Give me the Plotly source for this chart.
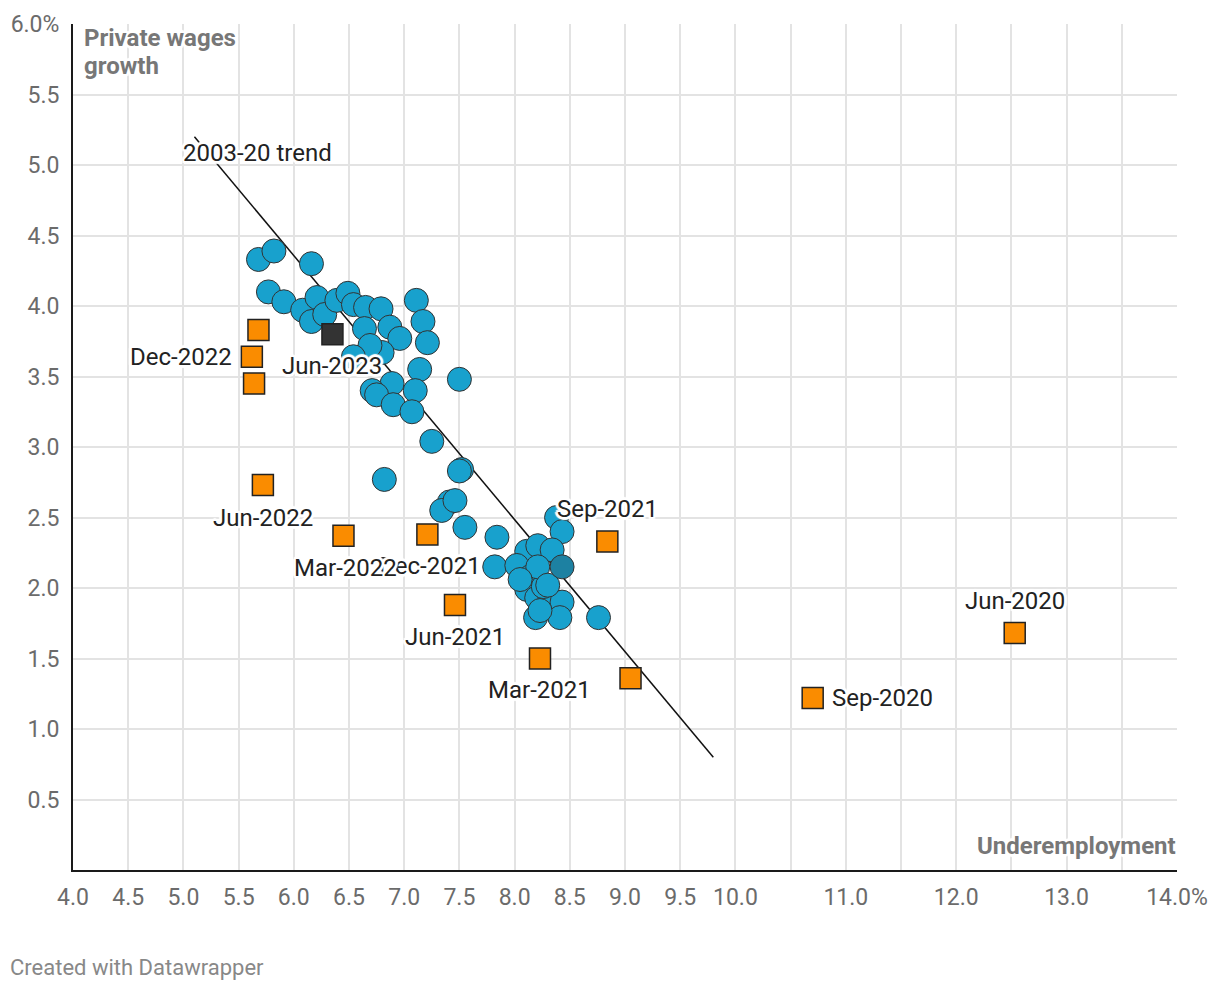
import plotly.graph_objects as go

# ---------------- data ----------------
# Historical quarterly observations (blue circles): underemployment %, private wages growth %
hist_under = [5.68, 5.82, 6.16, 5.77, 5.91, 6.08, 6.21, 6.16, 6.28, 6.39, 6.49, 6.54, 6.65, 6.79,
              7.11, 7.17, 7.21, 6.64, 6.87, 6.96, 6.80, 6.69, 7.14, 7.50, 6.89, 6.71, 6.75, 6.90,
              7.10, 7.07, 6.54, 7.25, 7.52, 7.50, 6.82, 7.41, 7.34, 7.46, 7.55, 7.84, 7.82, 8.38,
              8.43, 8.11, 8.21, 8.34, 8.02, 8.14, 8.11, 8.20, 8.32, 8.43, 8.19, 8.41, 8.76, 8.26,
              8.21, 8.30, 8.23, 8.05]
hist_wages = [4.33, 4.39, 4.30, 4.10, 4.03, 3.97, 4.06, 3.89, 3.94, 4.04, 4.09, 4.01, 3.99, 3.98,
              4.04, 3.89, 3.74, 3.84, 3.85, 3.77, 3.67, 3.72, 3.55, 3.48, 3.45, 3.40, 3.37, 3.30,
              3.40, 3.25, 3.64, 3.04, 2.84, 2.83, 2.77, 2.61, 2.55, 2.62, 2.43, 2.36, 2.15, 2.50,
              2.40, 2.26, 2.30, 2.27, 2.16, 2.08, 1.99, 1.93, 1.93, 1.90, 1.79, 1.79, 1.79, 2.01,
              2.15, 2.02, 1.84, 2.06]

# Highlighted historical point (darker circle)
hl_under = [8.43]
hl_wages = [2.15]

# Pandemic-era quarters (orange squares); last one highlighted (dark square)
quarters = ["Jun-2020", "Sep-2020", "Dec-2020", "Mar-2021", "Jun-2021", "Sep-2021", "Dec-2021",
            "Mar-2022", "Jun-2022", "Sep-2022", "Dec-2022", "Mar-2023", "Jun-2023"]
q_under = [12.53, 10.70, 9.05, 8.23, 7.46, 8.84, 7.21, 6.45, 5.72, 5.64, 5.62, 5.68, 6.35]
q_wages = [1.68, 1.22, 1.36, 1.50, 1.88, 2.33, 2.38, 2.37, 2.73, 3.45, 3.64, 3.83, 3.80]
q_labelled = [True, True, False, True, True, True, True, True, True, False, True, False, True]

# 2003-20 trend line end points
trend_x = [5.1, 9.8]
trend_y = [5.2, 0.8]
trend_label = "2003-20 trend"

x_tickvals = [4.0, 4.5, 5.0, 5.5, 6.0, 6.5, 7.0, 7.5, 8.0, 8.5, 9.0, 9.5, 10.0,
              10.5, 11.0, 11.5, 12.0, 12.5, 13.0, 13.5, 14.0]
x_ticktext = ["4.0", "4.5", "5.0", "5.5", "6.0", "6.5", "7.0", "7.5", "8.0", "8.5", "9.0", "9.5", "10.0",
              "", "11.0", "", "12.0", "", "13.0", "", "14.0%"]
y_tickvals = [0.5, 1.0, 1.5, 2.0, 2.5, 3.0, 3.5, 4.0, 4.5, 5.0, 5.5, 6.0]
y_ticktext = ["0.5", "1.0", "1.5", "2.0", "2.5", "3.0", "3.5", "4.0", "4.5", "5.0", "5.5", "6.0%"]

y_title_lines = ["Private wages", "growth"]
x_title = "Underemployment"
footer = "Created with Datawrapper"

# ---------------- styling ----------------
FONT = "Roboto, Arial, sans-serif"
BLUE = "#18a1cd"
DARK_BLUE = "#1d81a2"
ORANGE = "#fa8c00"
DARK = "#333333"
HALO = ("0 0 3px #fff, 1px 1px 0 #fff, -1px -1px 0 #fff, 1px -1px 0 #fff, -1px 1px 0 #fff, "
        "2px 2px 1px #fff, -2px -2px 1px #fff, 2px -2px 1px #fff, -2px 2px 1px #fff, "
        "3px 0 1px #fff, -3px 0 1px #fff, 0 3px 1px #fff, 0 -3px 1px #fff")
LABEL_SIZE = 24

# label placement per quarter: (xanchor, xshift, yshift)
label_place = {
    "Jun-2020": ("center", 0, 32),
    "Sep-2020": ("left", 17, 0),
    "Mar-2021": ("center", 0, -31),
    "Jun-2021": ("center", 0, -32),
    "Sep-2021": ("center", 0, 32),
    "Dec-2021": ("center", 3, -32),
    "Mar-2022": ("center", 2, -32),
    "Jun-2022": ("center", 0, -33),
    "Dec-2022": ("right", -18, 0),
    "Jun-2023": ("center", 0, -32),
}

fig = go.Figure()

fig.add_trace(go.Scatter(
    x=trend_x, y=trend_y, mode="lines",
    line=dict(color="#111111", width=1.5), hoverinfo="skip", showlegend=False))

fig.add_trace(go.Scatter(
    x=hist_under, y=hist_wages, mode="markers",
    marker=dict(symbol="circle", size=24, color=BLUE, line=dict(color=DARK, width=1)),
    showlegend=False))

fig.add_trace(go.Scatter(
    x=hl_under, y=hl_wages, mode="markers",
    marker=dict(symbol="circle", size=24, color=DARK_BLUE, line=dict(color=DARK, width=1)),
    showlegend=False))

sq_colors = [ORANGE] * (len(quarters) - 1) + [DARK]
fig.add_trace(go.Scatter(
    x=q_under, y=q_wages, mode="markers", text=quarters,
    marker=dict(symbol="square", size=21, color=sq_colors, line=dict(color="#222222", width=1.5)),
    showlegend=False))

annotations = []
annotations.append(dict(
    x=trend_x[0], y=trend_y[0], xref="x", yref="y", text=trend_label, showarrow=False,
    xanchor="left", yanchor="middle", xshift=-13, yshift=-16,
    font=dict(family=FONT, size=LABEL_SIZE, color="#222222", shadow=HALO)))

idx_sorted = sorted(range(len(quarters)), key=lambda i: (quarters[i] == "Mar-2022"))
for i in idx_sorted:
    if not q_labelled[i]:
        continue
    q = quarters[i]
    xa, xs, ys = label_place[q]
    annotations.append(dict(
        x=q_under[i], y=q_wages[i], xref="x", yref="y", text=q, showarrow=False,
        xanchor=xa, yanchor="middle", xshift=xs, yshift=ys,
        font=dict(family=FONT, size=LABEL_SIZE, color="#222222", shadow=HALO)))

# axis titles (two lines placed separately for tight line spacing)
for k, line in enumerate(y_title_lines):
    annotations.append(dict(
        x=0, y=1, xref="paper", yref="paper", text="<b>%s</b>" % line, showarrow=False,
        xanchor="left", yanchor="middle", xshift=9, yshift=-14 - 28 * k, align="left",
        font=dict(family=FONT, size=LABEL_SIZE, color="#777777", shadow=HALO)))
annotations.append(dict(
    x=1, y=0, xref="paper", yref="paper", text="<b>%s</b>" % x_title, showarrow=False,
    xanchor="right", yanchor="middle", xshift=1, yshift=24,
    font=dict(family=FONT, size=LABEL_SIZE, color="#777777", shadow=HALO)))
annotations.append(dict(
    x=-0.0589, y=-0.1158, xref="paper", yref="paper", text=footer,
    showarrow=False, xanchor="left", yanchor="middle",
    font=dict(family=FONT, size=22, color="#888888")))

fig.update_layout(
    width=1204, height=990,
    margin=dict(l=65, r=35, t=16, b=128, autoexpand=False),
    paper_bgcolor="white", plot_bgcolor="white",
    font=dict(family=FONT),
    annotations=annotations,
    hovermode=False,
)

fig.update_xaxes(
    range=[4, 14], tickvals=x_tickvals, ticktext=x_ticktext,
    showgrid=True, gridcolor="#e3e3e3", gridwidth=2,
    showline=True, linecolor="#1a1a1a", linewidth=2,
    zeroline=False, ticks="", ticklabelstandoff=5, automargin=False,
    tickfont=dict(family=FONT, size=23, color="#6b6b6b"))
fig.update_yaxes(
    range=[0, 6], tickvals=y_tickvals, ticktext=y_ticktext,
    showgrid=True, gridcolor="#e3e3e3", gridwidth=2,
    showline=True, linecolor="#1a1a1a", linewidth=2,
    zeroline=False, ticks="", ticklabelstandoff=7, automargin=False,
    tickfont=dict(family=FONT, size=23, color="#6b6b6b"))

fig.write_html("out.html")
